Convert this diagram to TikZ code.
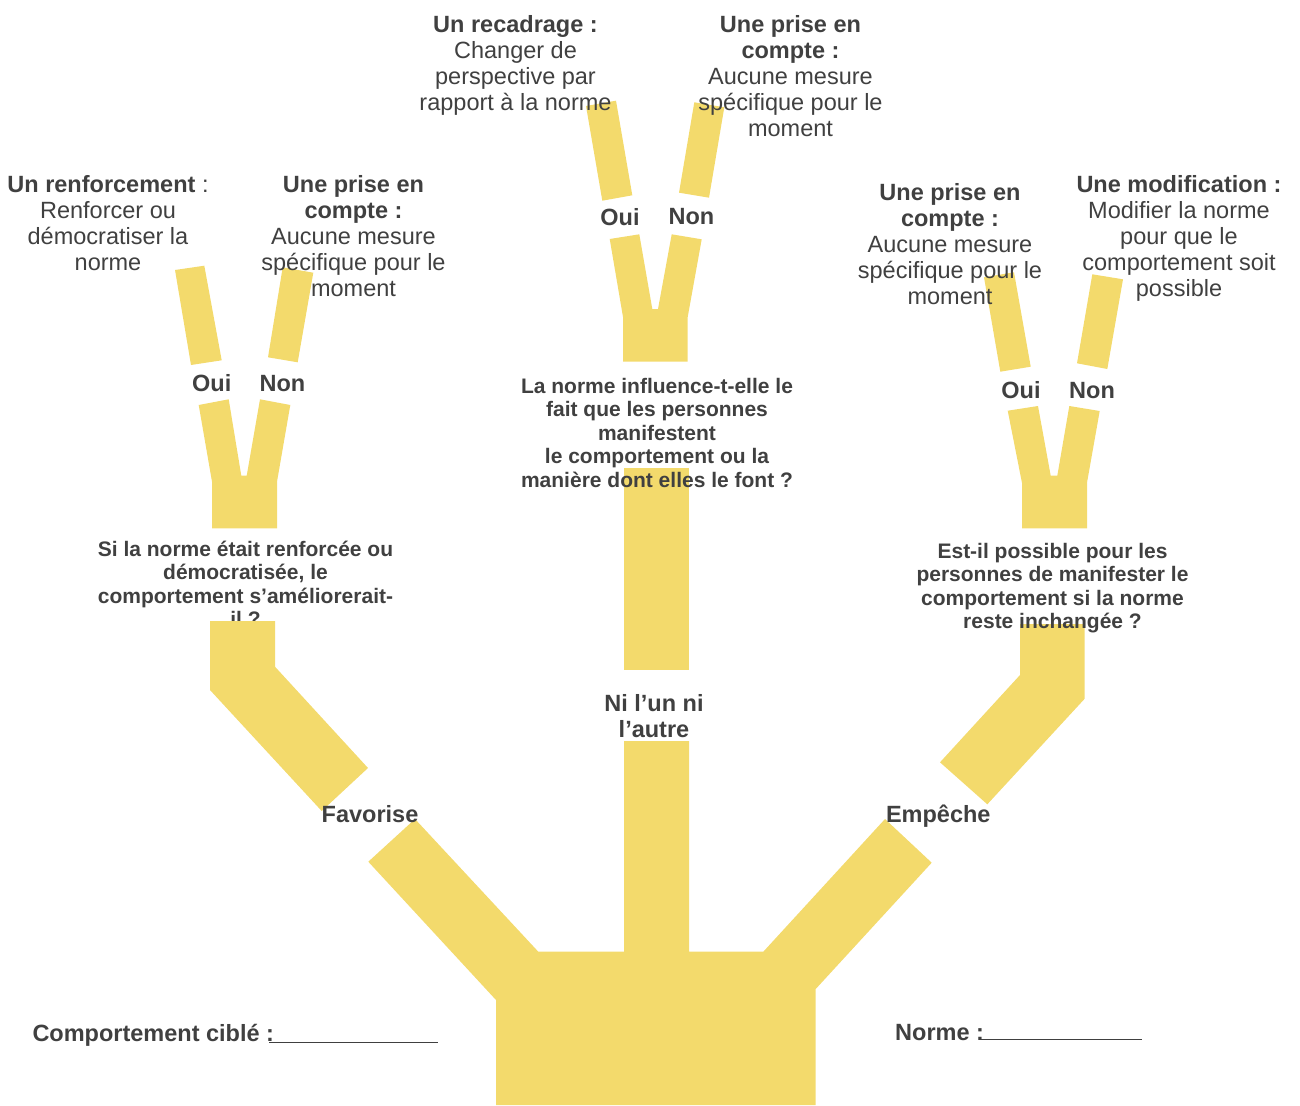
\documentclass[tikz,border=0pt]{standalone}
\usepackage{fontspec}
\setmainfont{Liberation Sans}
\definecolor{treeyellow}{RGB}{243,218,108}
\definecolor{inkgray}{RGB}{64,64,64}
\begin{document}
\begin{tikzpicture}[x=1pt, y=-1pt]
\tikzstyle{branch} = [fill=treeyellow, draw=none];
\tikzstyle{outcome} = [text=inkgray, align=center, anchor=north, inner sep=0, font=\fontsize{23.5}{26}\selectfont];
\tikzstyle{question} = [text=inkgray, align=center, anchor=north, inner sep=0, font=\fontsize{21}{23.5}\selectfont\bfseries];
\tikzstyle{answer} = [text=inkgray, anchor=base, inner sep=0, font=\fontsize{23.5}{26}\selectfont\bfseries];
\tikzstyle{field} = [text=inkgray, anchor=base west, inner sep=0, font=\fontsize{23.5}{26}\selectfont\bfseries];
\useasboundingbox (0,0) rectangle (1300,1105);
% trunk and the three main branches
\fill[branch] (368.3,861.7) -- (415,819) -- (538.3,951.7) -- (624,951.7) -- (624,741)
  -- (689,741) -- (689,951.7) -- (763.3,951.7) -- (885,819) -- (931.7,862.7)
  -- (815.7,989) -- (815.7,1105) -- (496,1105) -- (496,1000) -- cycle;
\fill[branch] (624,468) rectangle (689,670);
\fill[branch] (1020,624) -- (1084.7,624) -- (1084.7,698.7) -- (987.3,804.3) -- (940,762.3) -- (1020,675) -- cycle;
% left fork
\fill[branch] (198.7,405) -- (228.7,399.3) -- (241.3,475.7) -- (246.7,475.7) -- (260,399.3) -- (290.3,405)
  -- (277,481.7) -- (277,528.3) -- (212,528.3) -- (212,481.7) -- cycle;
\fill[branch] (175,270) -- (204.3,265.7) -- (221.7,360.3) -- (191,365) -- cycle;
\fill[branch] (282.7,267.3) -- (313.3,272.7) -- (297.7,362.3) -- (268,357.3) -- cycle;
% middle fork
\fill[branch] (609.7,239) -- (639.3,234.3) -- (652.3,309) -- (658,309) -- (671.7,234.3) -- (701.7,239.3)
  -- (687.7,317) -- (687.7,361.7) -- (623,361.7) -- (623,317) -- cycle;
\fill[branch] (586,106) -- (616,100.7) -- (632.3,195.3) -- (602.3,200.7) -- cycle;
\fill[branch] (694.3,102.3) -- (724.3,107.3) -- (709,197.7) -- (679,192.7) -- cycle;
% right fork
\fill[branch] (1007.7,410.7) -- (1038,406) -- (1050.7,475.7) -- (1057.3,475.7) -- (1069.3,406) -- (1099.7,411)
  -- (1087,482.7) -- (1087,528.3) -- (1022,528.3) -- (1022,483) -- cycle;
\fill[branch] (984,277.3) -- (1014,272.3) -- (1030.7,366.7) -- (1000.3,371.7) -- cycle;
\fill[branch] (1092.3,274.3) -- (1123,279.3) -- (1107.3,369) -- (1077,363.3) -- cycle;
% outcomes
\node[outcome] (renfo) at (108,175) {\textbf{Un renforcement} :\\Renforcer ou\\démocratiser la\\norme};
\node[outcome] (priseA) at (353.5,175) {\textbf{Une prise en}\\\textbf{compte :}\\Aucune mesure\\spécifique pour le\\moment};
\node[outcome] (recad) at (515.5,15) {\textbf{Un recadrage :}\\Changer de\\perspective par\\rapport à la norme};
\node[outcome] (priseB) at (790.5,15) {\textbf{Une prise en}\\\textbf{compte :}\\Aucune mesure\\spécifique pour le\\moment};
\node[outcome] (priseC) at (950,183) {\textbf{Une prise en}\\\textbf{compte :}\\Aucune mesure\\spécifique pour le\\moment};
\node[outcome] (modif) at (1179,175) {\textbf{Une modification :}\\Modifier la norme\\pour que le\\comportement soit\\possible};
% yes / no
\node[answer] (ouiA) at (211.7,391.7) {Oui};
\node[answer] (nonA) at (282.5,391.7) {Non};
\node[answer] (ouiB) at (620,225.7) {Oui};
\node[answer] (nonB) at (691.5,224) {Non};
\node[answer] (ouiC) at (1021,398.3) {Oui};
\node[answer] (nonC) at (1092,398) {Non};
% questions
\node[question] (qA) at (245.5,540.7) {Si la norme était renforcée ou\\démocratisée, le\\comportement s’améliorerait-\\il ?};
\node[question] (qB) at (657,378) {La norme influence-t-elle le\\fait que les personnes\\manifestent\\le comportement ou la\\manière dont elles le font ?};
\node[question] (qC) at (1052.5,542.7) {Est-il possible pour les\\personnes de manifester le\\comportement si la norme\\reste inchangée ?};
\fill[branch] (210,621) -- (275,621) -- (275,666.7) -- (368,768) -- (321.7,811) -- (210,690) -- cycle;
% main branches
\node[answer] (favo) at (370,822.7) {Favorise};
\node[answer] (empe) at (938.3,822.7) {Empêche};
\node[outcome, font=\fontsize{23.5}{26.5}\selectfont\bfseries] (ninon) at (654,694) {Ni l’un ni\\l’autre};
% fields
\node[field] (cible) at (32.3,1041.7) {Comportement ciblé :};
\node[field] (norme) at (895,1040.7) {Norme :};
\coordinate (cibleEnd) at (438.3,1042.3);
\coordinate (normeEnd) at (1142,1039.3);
\draw[inkgray, line width=1.6] (cible.base east) ++(-5,0.6) coordinate (cibleStart) -- (cibleEnd);
\draw[inkgray, line width=1.6] (norme.base east) ++(-4,-1.4) coordinate (normeStart) -- (normeEnd);
\end{tikzpicture}
\end{document}
